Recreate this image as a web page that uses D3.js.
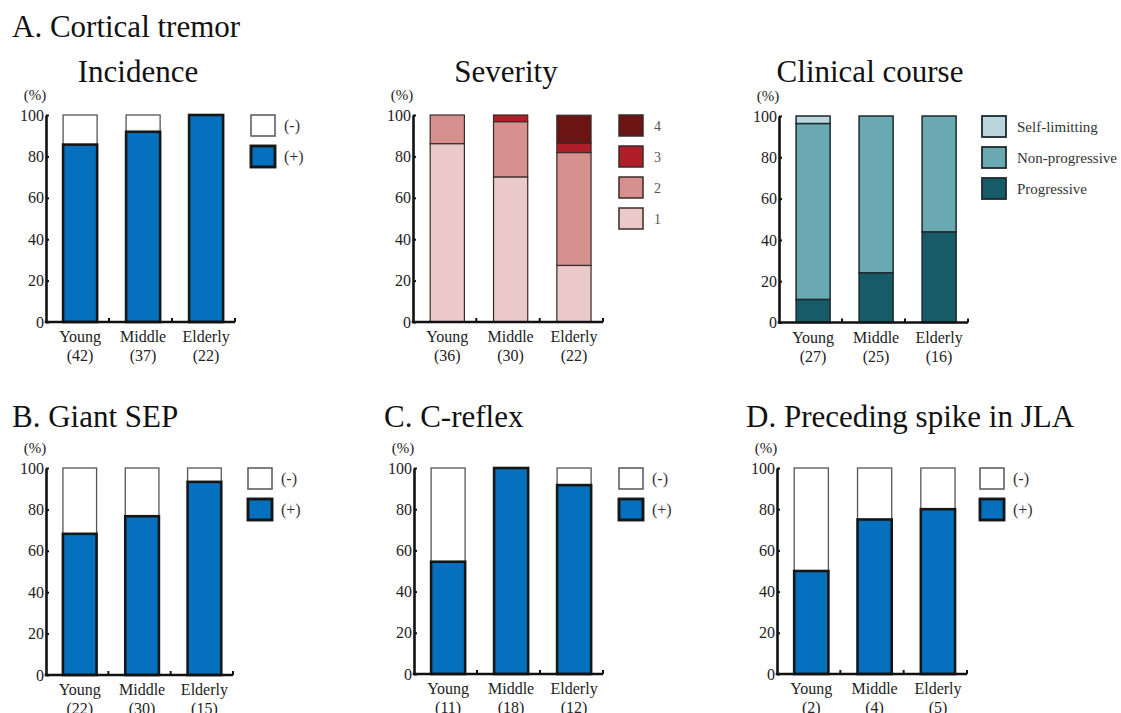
<!DOCTYPE html>
<html>
<head>
<meta charset="utf-8">
<script src="https://cdn.jsdelivr.net/npm/d3@7"></script>
<style>
  body { margin: 0; background: #fff; }
  svg text { font-family: "Liberation Serif", "Times New Roman", serif; }
</style>
</head>
<body>
<div id="chart"></div>
<script>
// age groups
const groups = ["Young", "Middle", "Elderly"];

// A. Cortical tremor - incidence
const incidenceN = [42, 37, 22];
const incidencePos = [85.7, 91.9, 100];

// A. severity (grade 1..4)
const severityN = [36, 30, 22];
const severity1 = [86.1, 70.0, 27.3];
const severity2 = [13.9, 26.7, 54.5];
const severity3 = [0, 3.3, 4.5];
const severity4 = [0, 0, 13.6];

// A. clinical course
const courseN = [27, 25, 16];
const courseProg = [11.1, 24.0, 43.8];
const courseNonProg = [85.2, 76.0, 56.2];
const courseSelf = [3.7, 0, 0];

// B, C, D
const sepN = [22, 30, 15];
const sepPos = [68.2, 76.7, 93.3];
const reflexN = [11, 18, 12];
const reflexPos = [54.5, 100, 91.7];
const spikeN = [2, 4, 5];
const spikePos = [50, 75, 80];

const yTicks = [0, 20, 40, 60, 80, 100];
const binaryLabels = ["(-)", "(+)"];
const severityLabels = ["4", "3", "2", "1"];
const courseLabels = ["Self-limitting", "Non-progressive", "Progressive"];

const svg = d3.select("#chart").append("svg")
    .attr("width", 1121)
    .attr("height", 713);

// segment styles
const styles = {
    pos: { fill: "#0571be", stroke: "#161616", sw: 2.6 },
    neg: { fill: "#ffffff", stroke: "#555", sw: 1.3 },
    s1: { fill: "#ebc9c8", stroke: "#3a2a2a", sw: 1.2 },
    s2: { fill: "#d6918e", stroke: "#3a2a2a", sw: 1.2 },
    s3: { fill: "#b01f27", stroke: "#3a2a2a", sw: 1.2 },
    s4: { fill: "#6b1414", stroke: "#3a2a2a", sw: 1.2 },
    prog: { fill: "#175b69", stroke: "#1d2a2e", sw: 1.5 },
    non: { fill: "#6aa8b2", stroke: "#1d2a2e", sw: 1.5 },
    self: { fill: "#b9d5dd", stroke: "#1d2a2e", sw: 1.5 }
};

function binary(pos) {
    return { pos: pos, neg: pos.map(v => 100 - v) };
}

function drawPanel(p) {
    const g = svg.append("g");

    const y = d3.scaleLinear().domain([0, 100]).range([p.y0, p.y100]);
    const x = d3.scaleBand()
        .domain(groups)
        .range([p.ax, p.ae])
        .paddingInner(0.46)
        .paddingOuter(0.23)
        .align(0.59);

    const rows = groups.map((grp, i) => {
        const r = { group: grp };
        p.keys.forEach(k => r[k] = p.values[k][i]);
        return r;
    });
    const series = d3.stack().keys(p.keys)(rows);

    // draw top layers first so thick borders of lower layers stay on top
    series.slice().reverse().forEach(s => {
        const st = styles[s.key];
        g.selectAll(null)
            .data(s.filter(d => d[1] - d[0] > 0))
            .enter().append("rect")
            .attr("x", d => x(d.data.group))
            .attr("width", x.bandwidth())
            .attr("y", d => y(d[1]))
            .attr("height", d => y(d[0]) - y(d[1]))
            .attr("fill", st.fill)
            .attr("stroke", st.stroke)
            .attr("stroke-width", st.sw);
    });

    // y axis
    const yAxis = g.append("g")
        .attr("transform", `translate(${p.ax},0)`)
        .call(d3.axisLeft(y).tickValues(yTicks).tickSize(-3).tickSizeOuter(0).tickPadding(2));
    yAxis.attr("font-family", null).attr("font-size", null);
    yAxis.select(".domain").attr("stroke", "#111").attr("stroke-width", 2.6);
    yAxis.selectAll(".tick line").attr("stroke", "#111").attr("stroke-width", 2);
    yAxis.selectAll(".tick text")
        .attr("font-size", 16)
        .attr("fill", "#222");

    // x axis line with group boundary ticks
    g.append("line")
        .attr("x1", p.ax - 1.3).attr("x2", p.ae)
        .attr("y1", p.y0).attr("y2", p.y0)
        .attr("stroke", "#111").attr("stroke-width", 2.6);
    groups.forEach((grp, i) => {
        const bx = x.range()[0] + x.step() * (i + 1);
        g.append("line")
            .attr("x1", bx).attr("x2", bx)
            .attr("y1", p.y0).attr("y2", p.y0 - 4)
            .attr("stroke", "#111").attr("stroke-width", 2);
    });

    // category labels
    groups.forEach((grp, i) => {
        const cx = x(grp) + x.bandwidth() / 2;
        g.append("text")
            .attr("x", cx).attr("y", p.y0 + 20)
            .attr("text-anchor", "middle")
            .attr("font-size", 16).attr("fill", "#222")
            .text(grp);
        g.append("text")
            .attr("x", cx).attr("y", p.y0 + 39)
            .attr("text-anchor", "middle")
            .attr("font-size", 16).attr("fill", "#222")
            .text(`(${p.n[i]})`);
    });

    // (%) label
    g.append("text")
        .attr("x", p.ax - 11).attr("y", p.y100 - 15)
        .attr("text-anchor", "middle")
        .attr("font-size", 15).attr("fill", "#222")
        .text("(%)");

    // legend
    p.legend.forEach((lg, i) => {
        const st = styles[lg.key];
        const ly = p.y100 + i * 31;
        g.append("rect")
            .attr("x", p.lx).attr("y", ly)
            .attr("width", 24).attr("height", 21)
            .attr("fill", st.fill)
            .attr("stroke", st.stroke)
            .attr("stroke-width", lg.key === "neg" ? 1.5 : st.sw + 0.3);
        g.append("text")
            .attr("x", p.lx + lg.dx).attr("y", ly + 16)
            .attr("font-size", lg.size)
            .attr("fill", lg.color)
            .text(lg.label);
    });

    if (p.sub) {
        g.append("text")
            .attr("x", p.subX).attr("y", 82)
            .attr("text-anchor", "middle")
            .attr("font-size", 31).attr("fill", "#111")
            .text(p.sub);
    }
}

const binLegend = [
    { key: "neg", label: binaryLabels[0], dx: 33, size: 16, color: "#333" },
    { key: "pos", label: binaryLabels[1], dx: 33, size: 16, color: "#333" }
];

drawPanel({
    ax: 46, ae: 235, y0: 322, y100: 115, lx: 251,
    keys: ["pos", "neg"], values: binary(incidencePos), n: incidenceN,
    legend: binLegend, sub: "Incidence", subX: 138
});

drawPanel({
    ax: 413, ae: 603, y0: 322, y100: 115, lx: 619,
    keys: ["s1", "s2", "s3", "s4"],
    values: { s1: severity1, s2: severity2, s3: severity3, s4: severity4 },
    n: severityN,
    legend: ["s4", "s3", "s2", "s1"].map((k, i) => ({ key: k, label: severityLabels[i], dx: 35, size: 14, color: "#555" })),
    sub: "Severity", subX: 506
});

drawPanel({
    ax: 779, ae: 968, y0: 322.5, y100: 116, lx: 982,
    keys: ["prog", "non", "self"],
    values: { prog: courseProg, non: courseNonProg, self: courseSelf },
    n: courseN,
    legend: ["self", "non", "prog"].map((k, i) => ({ key: k, label: courseLabels[i], dx: 35, size: 15, color: "#333" })),
    sub: "Clinical course", subX: 870
});

drawPanel({
    ax: 46, ae: 233, y0: 675, y100: 468, lx: 248,
    keys: ["pos", "neg"], values: binary(sepPos), n: sepN, legend: binLegend
});

drawPanel({
    ax: 414, ae: 603, y0: 674, y100: 468, lx: 619,
    keys: ["pos", "neg"], values: binary(reflexPos), n: reflexN, legend: binLegend
});

drawPanel({
    ax: 777, ae: 967, y0: 674, y100: 468, lx: 980,
    keys: ["pos", "neg"], values: binary(spikePos), n: spikeN, legend: binLegend
});

// section titles
const titles = [
    { text: "A. Cortical tremor", x: 12, y: 37 },
    { text: "B. Giant SEP", x: 12, y: 427 },
    { text: "C. C-reflex", x: 384, y: 427 },
    { text: "D. Preceding spike in JLA", x: 746, y: 427 }
];
svg.selectAll(".title")
    .data(titles)
    .enter().append("text")
    .attr("class", "title")
    .attr("x", d => d.x).attr("y", d => d.y)
    .attr("font-size", 31).attr("fill", "#111")
    .text(d => d.text);
</script>
</body>
</html>
